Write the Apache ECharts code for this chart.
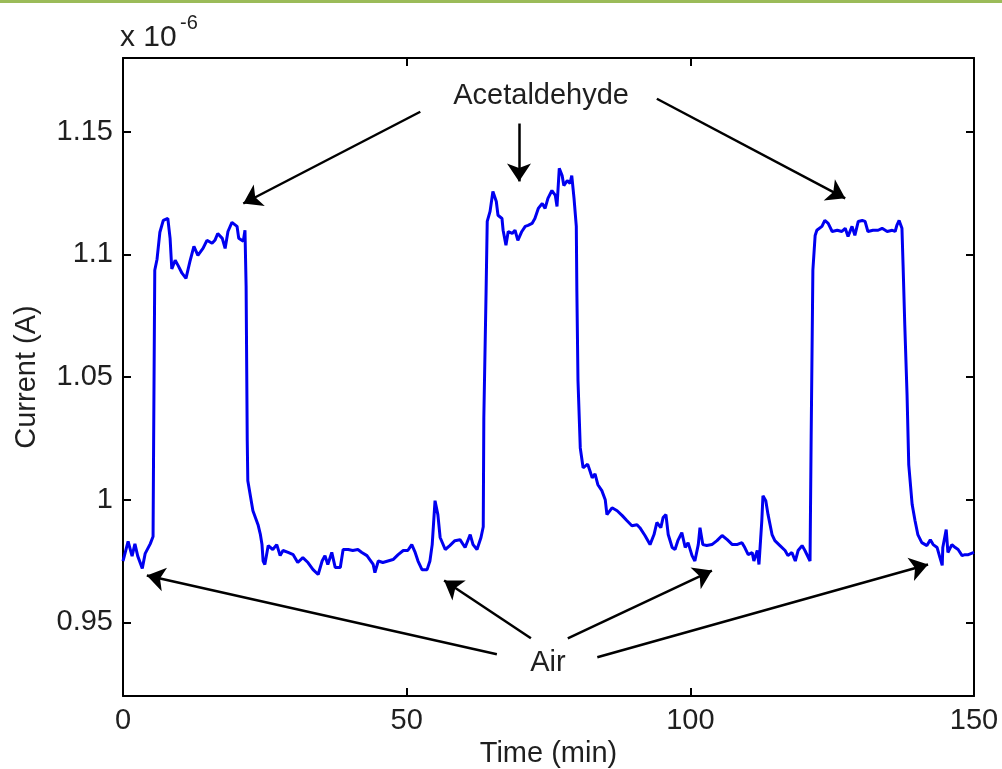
<!DOCTYPE html>
<html>
<head>
<meta charset="utf-8">
<script src="https://cdn.jsdelivr.net/npm/echarts@6/dist/echarts.min.js"></script>
<style>
html,body{margin:0;padding:0;background:#fff;}
#chart{width:1002px;height:769px;}
</style>
</head>
<body>
<div id="chart"></div>
<script>
// Time (min)
var timeMin = [
  0, 0.9, 1.6, 2.1, 2.6, 3.4, 3.9, 4.8, 5.3, 5.4,
  5.6, 6.0, 6.5, 7.1, 7.9, 8.3, 8.6, 9.2, 9.7, 10.4,
  11.1, 11.8, 12.5, 13.2, 14.1, 14.8, 15.7, 16.2, 16.7, 17.5,
  18.0, 18.5, 19.2, 20.1, 20.4, 21.2, 21.5, 21.7, 21.9, 22.0,
  22.9, 23.8, 24.2, 24.5, 24.7, 25.0, 25.6, 26.4, 27.1, 27.7,
  28.2, 29.1, 30.0, 30.8, 31.7, 32.6, 33.5, 34.4, 35.1, 35.6,
  36.1, 36.8, 37.4, 38.3, 38.8, 39.7, 40.5, 41.4, 42.1, 43.0,
  43.5, 44.1, 44.4, 45.0, 45.8, 46.7, 47.6, 48.5, 49.4, 50.2,
  50.9, 51.5, 52.0, 52.7, 53.6, 54.1, 54.5, 55.0, 55.5, 55.9,
  56.8, 57.6, 58.5, 59.4, 60.3, 61.2, 61.7, 62.4, 63.1, 63.5,
  63.6, 64.0, 64.2, 64.7, 65.2, 65.8, 66.1, 66.8, 67.0, 67.5,
  67.9, 68.6, 69.1, 69.6, 70.3, 70.9, 71.4, 72.1, 72.6, 73.2,
  73.9, 74.4, 74.9, 75.6, 76.2, 76.5, 76.9, 77.4, 77.7, 78.3,
  78.8, 79.1, 79.5, 79.9, 80.0, 80.2, 80.6, 81.1, 81.9, 82.3,
  82.7, 83.2, 83.7, 84.4, 85.0, 85.3, 86.2, 87.1, 88.0, 88.8,
  89.7, 90.6, 91.1, 92.0, 92.9, 93.6, 94.1, 94.8, 95.2, 95.7,
  96.1, 96.8, 97.3, 97.8, 98.5, 99.1, 99.6, 100.3, 100.8, 101.4,
  101.7, 102.2, 102.9, 103.8, 104.7, 105.6, 106.5, 107.4, 108.2, 109.1,
  109.6, 110.2, 110.9, 111.2, 111.8, 112.1, 112.6, 112.8, 113.3, 113.7,
  114.4, 114.9, 115.8, 116.7, 117.2, 117.9, 118.5, 119.0, 119.7, 120.2,
  121.1, 121.3, 121.6, 122.0, 122.3, 123.2, 123.7, 124.3, 125.0, 125.9,
  126.7, 127.3, 127.8, 128.5, 129.0, 129.6, 130.3, 130.8, 131.3, 132.2,
  133.1, 133.8, 134.7, 135.6, 136.1, 136.4, 136.8, 137.3, 137.5, 137.8,
  138.2, 138.5, 139.1, 139.6, 140.1, 140.8, 141.7, 142.3, 142.8, 143.5,
  144.0, 144.4, 144.5, 145.1, 145.4, 146.1, 146.7, 147.2, 147.9, 148.4,
  149.0, 150
];
// Current (x 1e-6 A)
var currentE6 = [
  0.975, 0.983, 0.977, 0.982, 0.977, 0.972, 0.978, 0.982, 0.985, 1.024,
  1.0935, 1.098, 1.109, 1.1138, 1.1146, 1.1065, 1.094, 1.0976, 1.0955, 1.0923,
  1.0902, 1.0971, 1.1032, 1.0996, 1.1024, 1.1057, 1.1045, 1.1057, 1.1085, 1.1065,
  1.1024, 1.1093, 1.113, 1.1114, 1.1065, 1.1053, 1.1098, 1.087, 1.024, 1.0077,
  0.9955, 0.9898, 0.986, 0.9817, 0.975, 0.9736, 0.9813, 0.9797, 0.9817, 0.9772,
  0.9793, 0.9785, 0.9776, 0.9744, 0.9764, 0.9744, 0.9715, 0.9695, 0.975, 0.9772,
  0.9736, 0.9785, 0.9724, 0.9724, 0.9797, 0.9797, 0.9793, 0.9797, 0.9785, 0.9772,
  0.9756, 0.9736, 0.9703, 0.975, 0.9744, 0.975, 0.9756, 0.9776, 0.9793, 0.9793,
  0.9817, 0.9785, 0.975, 0.9715, 0.9715, 0.975, 0.9817, 0.9996, 0.9939, 0.9846,
  0.9797, 0.9813, 0.9833, 0.9837, 0.9805, 0.9858, 0.9817, 0.9797, 0.9846, 0.989,
  1.0333, 1.085, 1.1134, 1.1175, 1.1256, 1.1215, 1.1159, 1.1146, 1.1098, 1.1037,
  1.1093, 1.1085, 1.1098, 1.1057, 1.1093, 1.1114, 1.1118, 1.1126, 1.1146, 1.1187,
  1.1207, 1.1187, 1.1228, 1.126, 1.124, 1.1195, 1.135, 1.1321, 1.128, 1.13,
  1.1289, 1.1321, 1.1228, 1.1114, 1.085, 1.0484, 1.0211, 1.013, 1.0145, 1.0118,
  1.0089, 1.0105, 1.0061, 1.0037, 1.0, 0.9939, 0.9967, 0.9955, 0.9935, 0.9915,
  0.9894, 0.9898, 0.9886, 0.9854, 0.9817, 0.9858, 0.9907, 0.9886, 0.9927, 0.9939,
  0.9858, 0.9805, 0.9797, 0.9833, 0.9866, 0.9805, 0.9825, 0.9772, 0.975, 0.9817,
  0.9886, 0.9817, 0.9813, 0.9817, 0.9833, 0.9854, 0.9837, 0.9817, 0.9817, 0.9825,
  0.9805, 0.9776, 0.9785, 0.975, 0.9793, 0.9736, 0.9915, 1.0016, 0.9996, 0.9939,
  0.9858, 0.9833, 0.9813, 0.9793, 0.9772, 0.9785, 0.975, 0.9793, 0.9813, 0.9793,
  0.975, 1.0264, 1.0935, 1.1077, 1.1098, 1.1114, 1.1138, 1.1126, 1.1093, 1.1098,
  1.1093, 1.1106, 1.1073, 1.1114, 1.1077, 1.1134, 1.1138, 1.1134, 1.1093, 1.1098,
  1.1098, 1.1106, 1.1093, 1.1098, 1.1093, 1.1118, 1.1138, 1.1106, 1.0955, 1.0711,
  1.0427, 1.0142, 0.998, 0.9915, 0.9858, 0.9825, 0.9813, 0.9837, 0.9817, 0.9805,
  0.9764, 0.9732, 0.9805, 0.9878, 0.9785, 0.9817, 0.9805, 0.9797, 0.9772, 0.9776,
  0.9776, 0.9785
];
var xTicks = [0, 50, 100, 150];
var yTicks = [0.95, 1, 1.05, 1.1, 1.15];
var yTickLabels = ['0.95', '1', '1.05', '1.1', '1.15'];

// annotations: labels and arrows [fromTime, fromCurrent, toTime, toCurrent]
var acetText = {name: 'Acetaldehyde', t: 73.7, c: 1.1646};
var airText = {name: 'Air', t: 74.9, c: 0.9333};
var acetArrows = [
  [52.4, 1.1581, 21.2, 1.1207],
  [69.8, 1.1533, 69.8, 1.1297],
  [94.1, 1.1634, 127.3, 1.1228]
];
var airArrows = [
  [65.9, 0.9370, 4.2, 0.9691],
  [71.9, 0.9435, 56.6, 0.9671],
  [78.4, 0.9435, 103.8, 0.9711],
  [83.6, 0.9358, 141.9, 0.9736]
];

var FONT = 'Liberation Sans, Arial, sans-serif';
var TXT = '#1f1f1f';

var lineData = timeMin.map(function (t, i) { return [t, currentE6[i]]; });
var arrowData = acetArrows.concat(airArrows).map(function (a) {
  return [{coord: [a[0], a[1]]}, {coord: [a[2], a[3]]}];
});

var axisLineStyle = {color: '#000', width: 2};
var chart = echarts.init(document.getElementById('chart'), null, {renderer: 'canvas'});
chart.setOption({
  animation: false,
  backgroundColor: '#fff',
  grid: {left: 123, top: 58, right: 28, bottom: 73, outerBoundsMode: 'none', containLabel: false},
  xAxis: [{
    type: 'value', min: 0, max: 150, interval: 50, position: 'bottom',
    axisLine: {show: true, onZero: false, lineStyle: axisLineStyle},
    axisTick: {show: true, inside: true, length: 8, lineStyle: axisLineStyle, customValues: xTicks},
    axisLabel: {show: true, fontSize: 29, color: TXT, fontFamily: FONT, margin: 10, customValues: xTicks},
    splitLine: {show: false},
    name: 'Time (min)', nameLocation: 'middle', nameGap: 40,
    nameTextStyle: {fontSize: 29, color: TXT, fontFamily: FONT}
  }, {
    type: 'value', min: 0, max: 150, interval: 50, position: 'top',
    axisLine: {show: true, onZero: false, lineStyle: axisLineStyle},
    axisTick: {show: true, inside: true, length: 8, lineStyle: axisLineStyle, customValues: xTicks},
    axisLabel: {show: false},
    splitLine: {show: false}
  }],
  yAxis: [{
    type: 'value', min: 0.92, max: 1.18, position: 'left',
    axisLine: {show: true, onZero: false, lineStyle: axisLineStyle},
    axisTick: {show: true, inside: true, length: 8, lineStyle: axisLineStyle, customValues: yTicks},
    axisLabel: {
      show: true, fontSize: 29, color: TXT, fontFamily: FONT, margin: 10, customValues: yTicks,
      formatter: function (v) {
        for (var i = 0; i < yTicks.length; i++) { if (Math.abs(yTicks[i] - v) < 1e-9) return yTickLabels[i]; }
        return '';
      }
    },
    splitLine: {show: false},
    name: 'Current (A)', nameLocation: 'middle', nameGap: 82, nameRotate: 90,
    nameTextStyle: {fontSize: 29, color: TXT, fontFamily: FONT}
  }, {
    type: 'value', min: 0.92, max: 1.18, position: 'right',
    axisLine: {show: true, onZero: false, lineStyle: axisLineStyle},
    axisTick: {show: true, inside: true, length: 8, lineStyle: axisLineStyle, customValues: yTicks},
    axisLabel: {show: false},
    splitLine: {show: false}
  }],
  series: [{
    type: 'line',
    xAxisIndex: 0, yAxisIndex: 0,
    data: lineData,
    showSymbol: false,
    symbol: 'none',
    lineStyle: {color: '#0000f0', width: 3},
    clip: true,
    markLine: {
      silent: true,
      symbol: ['none', 'arrow'],
      symbolSize: 18,
      lineStyle: {color: '#000', width: 2.5, type: 'solid'},
      label: {show: false},
      data: arrowData
    },
    markPoint: {
      silent: true,
      symbol: 'circle',
      symbolSize: 1,
      itemStyle: {color: 'rgba(0,0,0,0)'},
      label: {show: true, position: 'inside', fontSize: 29, color: TXT, fontFamily: FONT,
        formatter: function (p) { return p.name; }},
      data: [
        {name: acetText.name, coord: [acetText.t, acetText.c]},
        {name: airText.name, coord: [airText.t, airText.c]}
      ]
    }
  }],
  graphic: [
    {type: 'rect', left: 0, top: 0, shape: {width: 1002, height: 3}, style: {fill: '#9bbb59'}},
    {type: 'text', left: 120, top: 23, style: {text: 'x 10', fontSize: 30, fill: TXT, fontFamily: FONT}},
    {type: 'text', left: 180, top: 13, style: {text: '-6', fontSize: 20, fill: TXT, fontFamily: FONT}}
  ]
});
</script>
</body>
</html>
